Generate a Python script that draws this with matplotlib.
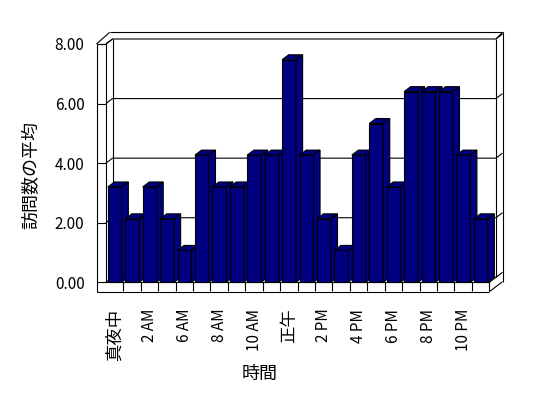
import numpy as np
import matplotlib
matplotlib.use('Agg')
import matplotlib.pyplot as plt
from matplotlib.patches import Polygon

# 日本語フォント
plt.rcParams['font.family'] = ['Noto Sans CJK JP', 'DejaVu Sans']

# データ
hours = ['真夜中', '1 AM', '2 AM', '3 AM', '6 AM', '7 AM', '8 AM', '9 AM',
         '10 AM', '11 AM', '正午', '1 PM', '2 PM', '3 PM', '4 PM', '5 PM',
         '6 PM', '7 PM', '8 PM', '9 PM', '10 PM', '11 PM']
visits = [3.20, 2.13, 3.20, 2.13, 1.07, 4.27, 3.20, 3.20, 4.27, 4.27, 7.47,
          4.27, 2.13, 1.07, 4.27, 5.33, 3.20, 6.40, 6.40, 6.40, 4.27, 2.13]
y_ticks = [0, 2, 4, 6, 8]

navy = '#000080'
lw = 0.8

fig = plt.figure(figsize=(5.48, 3.98), dpi=100)
ax = fig.add_axes([105.9 / 548, 1 - 282.3 / 398, 383.4 / 548, 238.3 / 398])
n = len(hours)
ymax = y_ticks[-1]
ax.set_xlim(0, n)
ax.set_ylim(0, ymax)

# 奥行きなど (ピクセル -> データ単位)
px_x = n / 383.4
px_y = ymax / 238.3
ox, oy = 6.6 * px_x, 5.0 * px_y
wall = 9.4 * px_x
floor = 9.4 * px_y
top_out = ymax + oy + 6.7 * px_y


def line(xs, ys):
    ax.plot(xs, ys, color='black', lw=lw, clip_on=False, zorder=1,
            solid_capstyle='butt')


# 目盛線 (左の壁→奥の壁→右の壁)
for v in y_ticks:
    line([0, ox, n + ox, n + 2 * ox], [v, v + oy, v + oy, v + 2 * oy])

# 壁と床の枠
line([-wall, -wall], [-floor, ymax])
line([-wall, 0], [ymax, ymax])
line([-wall, -wall + 2 * ox], [ymax, top_out])
line([0, ox], [ymax, ymax + oy])
line([-wall + 2 * ox, n + 2 * ox], [top_out, top_out])
line([n + ox, n + 2 * ox], [ymax + oy, top_out])
line([ox, ox], [oy, ymax + oy])
line([n + ox, n + ox], [oy, ymax + oy])
line([n + 2 * ox, n + 2 * ox], [top_out, -floor + 2 * oy])
line([-wall, n], [-floor, -floor])
line([n, n + 2 * ox], [-floor, -floor + 2 * oy])
line([n, n + ox], [0, oy])

# 棒 (正面・上面・側面)
x = np.arange(n)
off, w = 0.11, 0.80
bars = ax.bar(x + off, visits, width=w, align='edge', color=navy,
              edgecolor='black', lw=lw, clip_on=False)
for i, (b, v) in enumerate(zip(bars, visits)):
    z = 3 + i * 0.1
    b.set_zorder(z)
    x0 = x[i] + off
    x1 = x0 + w
    top = Polygon([(x0, v), (x1, v), (x1 + ox, v + oy), (x0 + ox, v + oy)],
                  closed=True, fc=navy, ec='black', lw=lw, clip_on=False,
                  zorder=z + 0.05)
    side = Polygon([(x1, 0), (x1, v), (x1 + ox, v + oy), (x1 + ox, oy)],
                   closed=True, fc=navy, ec='black', lw=lw, clip_on=False,
                   zorder=z + 0.05)
    ax.add_patch(top)
    ax.add_patch(side)

# 軸
for s in ['top', 'right']:
    ax.spines[s].set_visible(False)
for s in ['left', 'bottom']:
    ax.spines[s].set_linewidth(lw)
    ax.spines[s].set_zorder(2)

ax.set_yticks(y_ticks)
ax.set_yticklabels(['%.2f' % v for v in y_ticks])
ax.tick_params(axis='y', direction='out', length=6.8, width=lw, pad=8.6,
               labelsize=11)

ax.set_xticks(x[::2] + 0.5)
ax.set_xticklabels(hours[::2], rotation=90, va='top', ha='center')
ax.set_xticks(np.arange(1, n + 1), minor=True)
ax.tick_params(axis='x', which='major', length=0, pad=19)
ax.tick_params(axis='x', which='minor', direction='out', length=6.8,
               width=lw)
# 漢字のラベルは大きめ
for t in ax.get_xticklabels():
    t.set_fontsize(11 if t.get_text().isascii() else 12.5)

ax.set_ylabel('訪問数の平均', fontsize=13, va='center')
ax.yaxis.set_label_coords(-0.195, 0.45)
ax.set_xlabel('時間', fontsize=13, va='center')
ax.xaxis.set_label_coords(0.402, -0.385)

fig.savefig('out.png', dpi=100)
